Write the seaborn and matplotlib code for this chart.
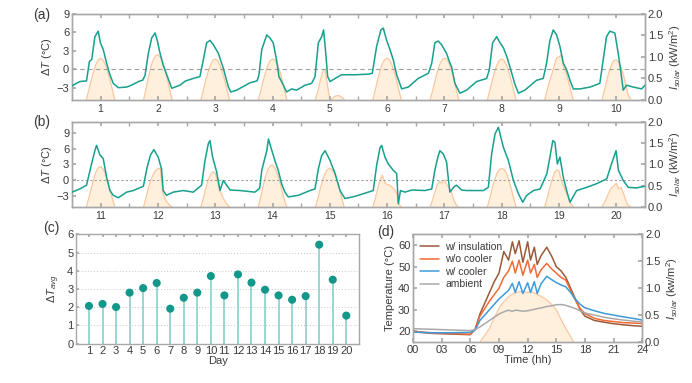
import numpy as np
import pandas as pd
import matplotlib
matplotlib.use("Agg")
import matplotlib.pyplot as plt
import seaborn as sns

# ---------------- data ----------------
# panel (a): temperature difference, days 1-10 (hours from start)
dt_hours_a = [0, 3.3, 6.1, 7.3, 8.3, 9.6, 11.0, 11.9, 13.1, 14.5, 15.9, 17.3, 19.4, 22.9,
              24.3, 28.5, 29.6, 30.6, 32.0, 33.4, 34.8, 35.8, 36.7, 38.2, 39.6, 41.8, 45.2, 47.6,
              50.8, 53.6, 55.0, 56.4, 57.8, 59.2, 61.3, 63.4, 65.5, 66.5, 69.0, 74.6,
              77.5, 78.3, 79.5, 81.6, 82.9, 84.3, 85.7, 86.7, 87.8, 89.9, 92.0, 94.1, 97.6,
              100.4, 101.8, 103.2, 104.6, 105.4, 106.3, 107.1, 108.1, 110.2, 112.9, 118.5, 124.1,
              125.8, 127.6, 129.4, 130.4, 131.8, 133.2, 134.6, 136.0, 138.1, 140.9, 145.0,
              149.3, 150.7, 152.0, 153.4, 154.8, 156.9, 158.3, 159.0, 160.4, 162.5, 165.3, 169.5, 173.7,
              174.8, 176.2, 177.9, 179.3, 180.7, 182.1, 183.5, 185.5, 187.0, 189.7, 194.6,
              197.4, 198.8, 200.2, 201.6, 203.0, 204.4, 205.8, 207.2, 208.6, 210.0, 212.8, 217.0,
              221.1, 222.5, 223.9, 225.3, 227.4, 228.8, 229.8, 230.9, 232.3, 235.1, 238.6, 240.0]
dt_vals_a = [-2.7, -2.0, -1.9, 1.25, 1.6, 5.3, 6.2, 4.3, 3.2, 1.0, -0.9, -2.3, -3.0, -2.9,
             -2.7, -1.9, -1.8, -1.0, 2.6, 5.1, 5.9, 4.6, 2.9, 0.7, -0.8, -3.1, -2.6, -1.9,
             -1.5, -1.2, 1.5, 4.3, 4.7, 4.0, 2.6, 0.15, -2.85, -3.7, -3.4, -2.2,
             -1.9, -1.0, 3.2, 5.6, 5.1, 4.3, 1.5, -1.2, -2.0, -3.7, -3.2, -3.4, -2.6,
             -2.3, -1.2, 4.3, 5.3, 6.4, 2.6, -1.2, -2.0, -1.5, -0.9, -0.9, -0.8,
             -0.65, 3.7, 6.4, 6.7, 4.7, 3.2, 1.5, -0.9, -3.2, -2.9, -1.5,
             -0.65, 1.0, 4.3, 4.6, 4.0, 2.6, 1.0, 0.4, -2.3, -3.9, -3.4, -2.0, -1.5,
             -0.1, 4.3, 5.3, 4.3, 3.5, 2.1, 0.3, -2.4, -3.9, -3.4, -1.8,
             -1.5, 1.0, 4.7, 6.4, 5.6, 3.7, 1.0, -0.1, -1.8, -3.2, -3.2, -2.9,
             -2.3, 1.5, 5.3, 6.2, 5.9, 2.6, -0.1, -3.4, -2.6, -2.9, -3.2, -2.6]

# panel (b): temperature difference, days 11-20
dt_hours_b = [240.0, 243.3, 246.1, 248.2, 249.6, 250.3, 251.7, 253.1, 254.5, 255.9, 257.3, 259.4, 262.9,
              265.7, 269.9, 271.5, 272.9, 274.3, 276.1, 277.5, 278.2, 279.6, 282.4, 286.6, 290.8,
              294.3, 295.7, 297.1, 297.8, 298.9, 300.6, 302.0, 303.4, 306.2, 310.4, 316.6,
              318.6, 319.5, 321.6, 322.3, 323.4, 325.0, 326.4, 327.8, 329.2, 330.6, 334.8, 339.7,
              341.8, 343.2, 344.6, 346.0, 348.1, 350.2, 352.3, 354.3, 358.5, 364.1,
              366.2, 367.6, 369.0, 369.7, 371.1, 372.5, 374.6, 376.0, 376.7, 377.6, 379.5, 382.3, 387.9,
              390.7, 392.0, 393.1, 394.1, 395.5, 396.9, 397.6, 398.3, 400.0, 401.1, 403.2, 405.3, 412.3,
              414.4, 415.8, 417.2, 418.6, 419.3, 420.7, 422.8, 424.9, 427.0, 428.8, 430.5, 433.3, 436.1,
              438.9, 440.2, 441.4, 442.3, 443.3, 444.4, 445.8, 447.2, 448.6, 451.4, 455.6,
              459.8, 464.0, 466.0, 467.9, 468.9, 470.9, 473.0, 476.5, 480.0]
dt_vals_b = [-2.2, -1.6, -0.9, 3.1, 5.6, 6.6, 4.8, 4.1, 0.6, -1.9, -2.8, -3.25, -2.2,
             -1.9, -1.1, 2.5, 4.8, 5.8, 4.4, 2.2, -1.9, -2.8, -2.2, -1.9, -2.2,
             -0.9, 3.7, 6.9, 7.5, 4.4, 1.6, -1.9, 0.0, -1.8, -1.9, -2.2,
             -1.5, 1.9, 5.6, 7.8, 6.1, 3.75, 1.9, -0.6, -2.2, -3.1, -2.8, -1.9,
             -1.6, 2.2, 4.7, 5.6, 3.75, 1.3, -1.9, -3.4, -3.0, -2.2,
             -1.9, 2.8, 6.1, 6.6, 4.4, 3.1, 1.9, 1.3, -4.4, -1.9, -2.2, -1.8, -1.9,
             -1.6, 1.9, 4.1, 5.6, 5.0, 3.5, 0.5, -2.2, -1.2, -0.9, -1.8, -1.9, -1.9,
             -1.3, 5.0, 8.75, 10.0, 8.75, 6.25, 3.75, 0.0, -2.5, -4.1, -2.8, -1.9, -1.6,
             1.25, 4.4, 7.5, 7.2, 3.1, 4.4, 0.6, -1.9, -4.1, -1.9, -1.3,
             -0.6, 0.3, 3.1, 5.6, 1.9, 0.0, -1.3, -1.4, -1.1]

# solar irradiance (kW/m2), hourly from 06:00 to 18:00 for each day
solar_hours = [6, 7, 8, 9, 10, 11, 12, 13, 14, 15, 16, 17, 18]
solar_a = [
    [0, 0.22, 0.45, 0.65, 0.82, 0.93, 0.97, 0.93, 0.82, 0.65, 0.45, 0.22, 0],
    [0, 0.26, 0.52, 0.76, 0.93, 1.03, 1.05, 1.00, 0.88, 0.70, 0.47, 0.22, 0],
    [0, 0.22, 0.45, 0.65, 0.81, 0.92, 0.95, 0.92, 0.81, 0.65, 0.45, 0.22, 0],
    [0, 0.20, 0.42, 0.63, 0.80, 0.91, 0.95, 0.93, 0.84, 0.68, 0.47, 0.24, 0],
    [0.02, 0.20, 0.45, 0.65, 0.72, 0.35, 0.0, 0.02, 0.08, 0.10, 0.10, 0.06, 0.02],
    [0, 0.22, 0.46, 0.67, 0.84, 0.94, 0.97, 0.93, 0.82, 0.65, 0.44, 0.20, 0],
    [0, 0.20, 0.43, 0.64, 0.82, 0.93, 0.97, 0.95, 0.85, 0.69, 0.48, 0.24, 0],
    [0, 0.22, 0.45, 0.65, 0.81, 0.92, 0.95, 0.92, 0.81, 0.65, 0.45, 0.22, 0],
    [0, 0.22, 0.42, 0.60, 0.80, 0.98, 1.00, 1.05, 0.75, 0.62, 0.42, 0.20, 0],
    [0, 0.22, 0.45, 0.66, 0.82, 0.92, 0.93, 0.88, 0.76, 0.58, 0.35, 0.10, 0.03],
]
solar_b = [
    [0, 0.20, 0.42, 0.63, 0.82, 0.92, 0.95, 0.90, 0.78, 0.60, 0.40, 0.18, 0],
    [0, 0.22, 0.45, 0.63, 0.76, 0.86, 0.90, 0.91, 0.35, 0.18, 0.10, 0.04, 0],
    [0, 0.20, 0.42, 0.62, 0.76, 0.83, 0.80, 0.60, 0.38, 0.25, 0.14, 0.06, 0],
    [0, 0.22, 0.47, 0.70, 0.88, 0.97, 0.99, 0.92, 0.78, 0.60, 0.38, 0.16, 0],
    [0, 0.20, 0.43, 0.63, 0.79, 0.88, 0.91, 0.88, 0.79, 0.63, 0.43, 0.20, 0],
    [0, 0.18, 0.42, 0.62, 0.75, 0.58, 0.52, 0.52, 0.47, 0.42, 0.32, 0.06, 0],
    [0, 0.16, 0.35, 0.52, 0.60, 0.56, 0.64, 0.52, 0.46, 0.34, 0.16, 0.04, 0],
    [0, 0.20, 0.43, 0.63, 0.79, 0.88, 0.91, 0.88, 0.79, 0.63, 0.43, 0.20, 0],
    [0, 0.20, 0.42, 0.62, 0.80, 0.87, 0.85, 0.62, 0.48, 0.34, 0.20, 0.07, 0],
    [0, 0.10, 0.22, 0.35, 0.46, 0.50, 0.56, 0.42, 0.46, 0.32, 0.15, 0.04, 0],
]
days_a = list(range(1, 11))
days_b = list(range(11, 21))

# panel (c): daily average temperature difference
days_c = list(range(1, 21))
dt_avg = [2.07, 2.18, 2.01, 2.80, 3.05, 3.33, 1.92, 2.52, 2.80, 3.71,
          2.65, 3.80, 3.35, 2.96, 2.65, 2.41, 2.61, 5.43, 3.51, 1.54]

# panel (d): one day of temperatures
hours_d = [0, 2, 4, 6, 6.5, 7, 7.5, 8, 8.5, 9, 9.5, 10, 10.4, 10.7, 11.1, 11.5, 12, 12.3, 12.7,
           13.0, 13.4, 14.0, 14.5, 15, 15.5, 16, 16.5, 17, 17.5, 18, 19, 20, 21, 22, 23, 24]
t_insulation = [19.8, 19.0, 18.7, 18.4, 21, 28, 33, 38, 43, 47, 57, 53, 61.5, 56, 62, 52, 61.5, 53, 59,
                51, 55, 59, 55, 50, 48, 45, 40, 35, 30, 27, 25, 24.2, 23.5, 23, 22.6, 22.3]
t_wo_cooler = [20, 19.2, 18.9, 18.6, 21, 27, 30.5, 34, 37, 40, 45, 48, 52.5, 47, 53, 46, 53, 47, 51,
               45, 48.5, 51.5, 49, 47, 45, 43.7, 39, 34.4, 30.5, 28.2, 26, 25, 24.5, 24, 23.8, 23.6]
t_w_cooler = [19.6, 19.3, 19.3, 19.5, 20.5, 25, 27.5, 30, 32.5, 35, 37, 39, 42.2, 38, 43, 37.5, 42.5, 38, 43,
              37.5, 42, 45.5, 44, 42.6, 41.5, 40.6, 38, 34.9, 32.5, 30.9, 29.5, 28.3, 27.5, 26.7, 26, 25.2]
t_ambient = [21.2, 20.9, 20.6, 20.3, 20.8, 22, 23.5, 25, 26.5, 28, 29, 29.8, 29.2, 29.8, 29.6, 29.3, 29.5, 29.8, 30.2,
             30.5, 30.8, 31.5, 31.8, 32.3, 32.4, 32, 31.3, 30.5, 29.5, 28.5, 27.5, 26.5, 25.8, 25.2, 24.7, 24.3]
solar_hours_d = [7, 7.5, 8, 8.5, 9, 9.5, 10, 10.5, 11, 11.5, 12, 12.5, 13, 13.5, 14, 14.5,
                 15, 15.5, 16, 16.5, 16.8]
solar_d = [0, 0.12, 0.25, 0.45, 0.63, 0.75, 0.84, 0.90, 0.93, 0.94, 0.92, 0.93, 0.88, 0.84,
           0.78, 0.70, 0.60, 0.42, 0.25, 0.10, 0]
series_names = ["w/ insulation", "w/o cooler", "w/ cooler", "ambient"]

# ---------------- style ----------------
sns.set_theme(style="ticks")
plt.rcParams["font.family"] = ["Liberation Sans", "DejaVu Sans"]
plt.rcParams["mathtext.fontset"] = "custom"
plt.rcParams["mathtext.rm"] = "Liberation Sans"
plt.rcParams["mathtext.it"] = "Liberation Sans:italic"
plt.rcParams["mathtext.bf"] = "Liberation Sans:bold"

GREEN = "#17a08d"
SOL_FILL = "#fef0dd"
SOL_EDGE = "#fac79e"
SPINE = "#a8a8a8"
TXT = "#3a3a3a"
FS = 7.5

fig = plt.figure(figsize=(6.92, 3.83), dpi=100)
ax_a = fig.add_axes([0.104, 0.739, 0.828, 0.2246])
ax_b = fig.add_axes([0.104, 0.4595, 0.828, 0.222])
ax_c = fig.add_axes([0.110, 0.1026, 0.409, 0.2857])
ax_d = fig.add_axes([0.597, 0.107, 0.331, 0.2813])


def style_spines(ax):
    for s in ax.spines.values():
        s.set_color(SPINE)
        s.set_linewidth(1.0)


def draw_ts(ax, hours, vals, solar_rows, days, ylim, dash):
    twin = ax.twinx()
    for day, row in zip(days, solar_rows):
        x = [24 * (day - 1) + h for h in solar_hours]
        df = pd.DataFrame({"h": x, "s": row})
        twin.fill_between(df["h"], 0, df["s"], color=SOL_FILL, lw=0, zorder=1)
        sns.lineplot(data=df, x="h", y="s", ax=twin, color=SOL_EDGE, lw=0.9,
                     estimator=None, sort=False, zorder=2)
    twin.set_ylim(0, 2.0)
    twin.set_yticks([0, 0.5, 1.0, 1.5, 2.0])
    twin.set_yticklabels(["0.0", "0.5", "1.0", "1.5", "2.0"])
    twin.set_ylabel(r"$I_{solar}$ (kW/m$^2$)", fontsize=FS + 0.5, color=TXT, labelpad=3)
    twin.tick_params(axis="y", direction="in", length=3, labelsize=FS + 0.5,
                     colors=TXT, color=SPINE, pad=2)
    ax.set_zorder(twin.get_zorder() + 1)
    ax.patch.set_visible(False)

    ax.axhline(0, color="#a0a0a0", lw=0.8, ls=dash, zorder=1)
    df = pd.DataFrame({"h": hours, "v": vals})
    sns.lineplot(data=df, x="h", y="v", ax=ax, color=GREEN, lw=1.1,
                 estimator=None, sort=False, zorder=3)
    x0 = 24 * (days[0] - 1)
    ax.set_xlim(x0, x0 + 240)
    twin.set_xlim(x0, x0 + 240)
    ax.set_ylim(*ylim)
    ax.set_yticks([-3, 0, 3, 6, 9])
    ax.set_xticks([x0 + 12 + 24 * i for i in range(10)])
    ax.set_xticklabels([str(d) for d in days])
    ax.set_xticks([x0 + 24 * i for i in range(1, 10)], minor=True)
    ax.tick_params(axis="x", which="both", direction="in", top=True, length=3,
                   labelsize=FS, colors=TXT, color=SPINE, pad=3)
    ax.tick_params(axis="y", direction="in", length=3, labelsize=FS + 0.5,
                   colors=TXT, color=SPINE, pad=2)
    ax.set_xlabel("")
    ax.set_ylabel(r"$\Delta T$ (°C)", fontsize=FS + 0.5, color=TXT, labelpad=2)
    style_spines(ax)
    style_spines(twin)
    return twin


draw_ts(ax_a, dt_hours_a, dt_vals_a, solar_a, days_a, (-5, 9), (0, (4, 3)))
draw_ts(ax_b, dt_hours_b, dt_vals_b, solar_b, days_b, (-5, 11), (0, (2, 2)))

# ---------------- panel (c) ----------------
ax_c.yaxis.grid(True, ls=(0, (1, 2)), color="#c8c8c8", lw=0.7)
ax_c.set_axisbelow(True)
ax_c.vlines(days_c, 0, dt_avg, color="#8fd6cd", lw=1.3, zorder=2)
sns.scatterplot(x=days_c, y=dt_avg, ax=ax_c, color="#12978a", s=34,
                edgecolor="none", zorder=3)
ax_c.set_xlim(0.05, 20.95)
ax_c.set_ylim(0, 6)
ax_c.set_xticks(days_c)
ax_c.set_yticks(range(0, 7))
ax_c.tick_params(axis="both", direction="in", length=2.5, top=True,
                 labelsize=FS + 0.5, colors=TXT, color=SPINE, pad=2)
ax_c.set_xlabel("Day", fontsize=FS + 0.5, color=TXT, labelpad=0)
ax_c.set_ylabel(r"$\Delta T_{avg}$", fontsize=FS + 0.5, color=TXT, labelpad=4)
style_spines(ax_c)

# ---------------- panel (d) ----------------
tw_d = ax_d.twinx()
tw_d.fill_between(solar_hours_d, 0, solar_d, color=SOL_FILL, lw=0, zorder=1)
sns.lineplot(x=solar_hours_d, y=solar_d, ax=tw_d, color=SOL_EDGE, lw=0.9,
             estimator=None, sort=False)
tw_d.set_ylim(0, 2.0)
tw_d.set_yticks([0, 0.5, 1.0, 1.5, 2.0])
tw_d.set_yticklabels(["0.0", "0.5", "1.0", "1.5", "2.0"])
tw_d.set_ylabel(r"$I_{solar}$ (kw/m$^2$)", fontsize=FS + 0.5, color=TXT, labelpad=3)
tw_d.tick_params(axis="y", direction="in", length=3, labelsize=FS + 0.5,
                 colors=TXT, color=SPINE, pad=2)
ax_d.set_zorder(tw_d.get_zorder() + 1)
ax_d.patch.set_visible(False)

long_d = pd.DataFrame({
    "hour": hours_d * 4,
    "temp": t_insulation + t_wo_cooler + t_w_cooler + t_ambient,
    "series": sum([[n] * len(hours_d) for n in series_names], []),
})
palette = {"w/ insulation": "#9a5a3a", "w/o cooler": "#f26a35",
           "w/ cooler": "#3c9bd8", "ambient": "#a9a9a9"}
sns.lineplot(data=long_d, x="hour", y="temp", hue="series", palette=palette,
             hue_order=series_names, ax=ax_d, lw=1.1, estimator=None, sort=False)
ax_d.legend(loc="upper left", frameon=False, fontsize=FS, handlelength=1.8,
            handletextpad=0.6, labelspacing=0.25, borderaxespad=0.3,
            labelcolor=TXT)
ax_d.set_xlim(0, 24)
tw_d.set_xlim(0, 24)
ax_d.set_ylim(15, 65)
ax_d.set_yticks([20, 30, 40, 50, 60])
ax_d.set_xticks(range(0, 25, 3))
ax_d.set_xticklabels([f"{h:02d}" for h in range(0, 25, 3)])
ax_d.tick_params(axis="both", direction="in", length=3, top=True,
                 labelsize=FS + 0.5, colors=TXT, color=SPINE, pad=2)
ax_d.set_xlabel("Time (hh)", fontsize=FS + 0.5, color=TXT, labelpad=0)
ax_d.set_ylabel("Temperature (°C)", fontsize=FS + 0.5, color=TXT, labelpad=2)
style_spines(ax_d)
style_spines(tw_d)

# panel labels
fig.text(0.048, 0.962, "(a)", fontsize=10, color=TXT, va="center")
fig.text(0.048, 0.682, "(b)", fontsize=10, color=TXT, va="center")
fig.text(0.062, 0.405, "(c)", fontsize=10, color=TXT, va="center")
fig.text(0.545, 0.393, "(d)", fontsize=10, color=TXT, va="center")

fig.savefig("out.png", dpi=100)
